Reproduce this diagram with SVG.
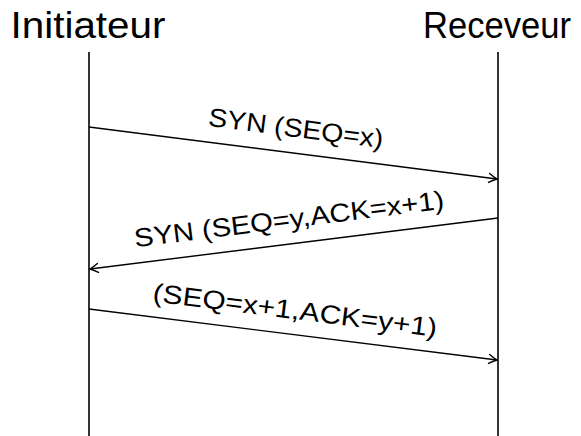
<svg xmlns="http://www.w3.org/2000/svg" width="581" height="436" viewBox="0 0 581 436">
<style>
.title{font-family:"Liberation Sans",Arial,sans-serif;font-size:37px;fill:#000;text-anchor:middle}
.lbl{font-family:"Liberation Sans",Arial,sans-serif;font-size:26px;fill:#000;text-anchor:middle}
.life{stroke:#000;stroke-width:1.6;fill:none}
.msg{stroke:#000;stroke-width:1.4;fill:none;marker-end:url(#arr)}
</style>
<defs>
<marker id="arr" markerUnits="userSpaceOnUse" viewBox="-10 -6 12 12" markerWidth="12" markerHeight="12" refX="0" refY="0" orient="auto">
<path d="M -8 -4.5 Q -3 -1.2 0 0 Q -3 1.2 -8 4.5" stroke="#000" stroke-width="1.4" fill="none" stroke-linecap="round"/>
</marker>
</defs>
<g id="initiateur">
<text class="title" x="88" y="38" textLength="155" lengthAdjust="spacingAndGlyphs">Initiateur</text>
<line class="life" x1="89" y1="52" x2="89" y2="436"/>
</g>
<g id="receveur">
<text class="title" x="497" y="38" textLength="148" lengthAdjust="spacingAndGlyphs">Receveur</text>
<line class="life" x1="498" y1="52" x2="498" y2="436"/>
</g>
<g id="connectors">
<line class="msg" x1="89" y1="127" x2="497" y2="179"/>
<line class="msg" x1="498" y1="218" x2="90" y2="269"/>
<line class="msg" x1="89" y1="309" x2="497" y2="360"/>
</g>
<g id="labels">
<text class="lbl" transform="translate(296,128) rotate(7.26)" x="0" y="9" textLength="176" lengthAdjust="spacingAndGlyphs">SYN (SEQ=x)</text>
<text class="lbl" transform="translate(289,219) rotate(-7.13)" x="0" y="9" textLength="312" lengthAdjust="spacingAndGlyphs">SYN (SEQ=y,ACK=x+1)</text>
<text class="lbl" transform="translate(295,310) rotate(7.13)" x="0" y="9" textLength="286" lengthAdjust="spacingAndGlyphs">(SEQ=x+1,ACK=y+1)</text>
</g>
</svg>
